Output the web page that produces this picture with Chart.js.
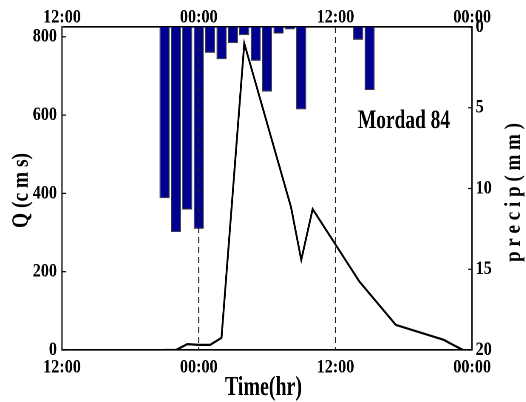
<!DOCTYPE html>
<html>
<head>
<meta charset="utf-8">
<script src="https://cdn.jsdelivr.net/npm/chart.js@4/dist/chart.umd.min.js"></script>
<style>
    html, body { margin: 0; padding: 0; background: #fff; overflow: hidden; }
    #wrap {
        position: absolute; left: 0; top: 0;
        width: 619px; height: 402px;
        transform: scaleX(0.85); transform-origin: 0 0;
    }
</style>
</head>
<body>
<div id="wrap"><canvas id="hydroChart"></canvas></div>
<script>
        // Time axis: hours since 12:00 of the first day
        const xTickLabels = ['12:00', '00:00', '12:00', '00:00'];
        const qTicks = [0, 200, 400, 600, 800];
        const pTicks = [0, 5, 10, 15, 20];

        // Hourly rainfall (mm)
        const rainHours = [9, 10, 11, 12, 13, 14, 15, 16, 17, 18, 19, 20, 21, 26, 27];
        const rainMm = [10.6, 12.7, 11.3, 12.5, 1.6, 2.0, 1.0, 0.5, 2.1, 4.0, 0.4, 0.15, 5.1, 0.8, 3.9];

        // Discharge hydrograph (cms)
        const flowHours = [9, 10, 11, 12, 13, 14, 16, 20.1, 21, 22, 26.1, 29.3, 33.5, 34.2, 35.2];
        const flowCms = [0, 0, 15, 13, 13, 31, 783, 365, 230, 360, 175, 64, 26, 15, 0];

        const S = 0.85;          // horizontal squeeze applied to the canvas
        const W = 526 / S;
        const serif = '"Liberation Serif", "Times New Roman", serif';

        Chart.defaults.font.family = serif;
        Chart.defaults.font.size = 19;
        Chart.defaults.font.weight = 'bold';
        Chart.defaults.color = '#000';

        // Draws text squeezed to a given length (screen px), centred on cx
        function drawFitted(ctx, text, cx, cy, len, size, rotated) {
            ctx.save();
            ctx.font = 'bold ' + size + 'px ' + serif;
            const w = ctx.measureText(text).width;
            ctx.translate(cx / S, cy);
            if (rotated) {
                ctx.rotate(-Math.PI / 2);
                ctx.scale(len / w, 1 / S);
            } else {
                ctx.scale(len / w / S, 1);
            }
            ctx.fillText(text, 0, 0);
            ctx.restore();
        }

        // Dashed grid lines, inward ticks and the text labels
        const overlay = {
            id: 'overlay',
            afterDatasetsDraw(chart) {
                const { ctx, chartArea, scales } = chart;
                ctx.save();
                ctx.strokeStyle = '#222';
                ctx.lineWidth = 1.1 / S;
                ctx.setLineDash([6, 4]);
                scales.x.ticks.forEach(t => {
                    if (t.value <= scales.x.min || t.value >= scales.x.max) return;
                    const x = scales.x.getPixelForValue(t.value);
                    ctx.beginPath();
                    ctx.moveTo(x, chartArea.top);
                    ctx.lineTo(x, chartArea.bottom);
                    ctx.stroke();
                });
                ctx.setLineDash([]);
                ctx.strokeStyle = '#000';
                ctx.lineWidth = 1.2;
                const tl = 4 / S;
                scales.yQ.ticks.forEach(t => {
                    const y = scales.yQ.getPixelForValue(t.value);
                    ctx.beginPath();
                    ctx.moveTo(chartArea.left, y);
                    ctx.lineTo(chartArea.left + tl, y);
                    ctx.stroke();
                });
                scales.yP.ticks.forEach(t => {
                    const y = scales.yP.getPixelForValue(t.value);
                    ctx.beginPath();
                    ctx.moveTo(chartArea.right, y);
                    ctx.lineTo(chartArea.right - tl, y);
                    ctx.stroke();
                });
                ctx.restore();
            },
            afterDraw(chart) {
                const { ctx } = chart;
                ctx.save();
                ctx.fillStyle = '#000';
                ctx.textAlign = 'center';
                ctx.textBaseline = 'middle';
                drawFitted(ctx, 'Q (c m s)', 21.5, 190.5, 75, 23, true);
                drawFitted(ctx, 'p r e c i p ( m m )', 514, 192.5, 139, 22, true);

                ctx.textBaseline = 'alphabetic';
                drawFitted(ctx, 'Time(hr)', 263.5, 395, 77, 27, false);
                drawFitted(ctx, 'Mordad 84', 404, 128, 92, 26, false);
                ctx.restore();
            }
        };

        const timeTicks = {
            stepSize: 12,
            autoSkip: false,
            maxRotation: 0,
            callback: v => xTickLabels[Math.round(v / 12)]
        };

        new Chart(document.getElementById('hydroChart'), {
            type: 'bar',
            data: {
                datasets: [{
                    type: 'line',
                    label: 'Q',
                    data: flowHours.map((h, i) => ({ x: h, y: flowCms[i] })),
                    xAxisID: 'x',
                    yAxisID: 'yQ',
                    borderColor: '#000',
                    borderWidth: 2.2,
                    pointRadius: 0,
                    tension: 0,
                    fill: false,
                    order: 1
                }, {
                    type: 'bar',
                    label: 'precip',
                    data: rainHours.map((h, i) => ({ x: h, y: rainMm[i] })),
                    xAxisID: 'x',
                    yAxisID: 'yP',
                    backgroundColor: '#00008f',
                    borderColor: '#333',
                    borderWidth: 1,
                    categoryPercentage: 1,
                    barPercentage: 0.88,
                    order: 2
                }]
            },
            options: {
                responsive: true,
                maintainAspectRatio: false,
                animation: false,
                devicePixelRatio: 2,
                layout: { padding: 0 },
                plugins: {
                    legend: { display: false },
                    tooltip: { enabled: false }
                },
                scales: {
                    x: {
                        type: 'linear',
                        position: 'bottom',
                        min: 0,
                        max: 36,
                        offset: false,
                        ticks: { ...timeTicks, padding: 6 },
                        grid: { display: false, drawTicks: false },
                        border: { color: '#000', width: 1.6 },
                        afterFit: s => { s.height = 52; }
                    },
                    xTop: {
                        type: 'linear',
                        position: 'top',
                        min: 0,
                        max: 36,
                        offset: false,
                        ticks: { ...timeTicks, padding: -2 },
                        grid: { display: false, drawTicks: false },
                        border: { color: '#000', width: 1.6 },
                        afterFit: s => { s.height = 27; }
                    },
                    yQ: {
                        type: 'linear',
                        position: 'left',
                        min: 0,
                        max: 825,
                        ticks: { padding: 6 },
                        afterBuildTicks: s => { s.ticks = qTicks.map(v => ({ value: v })); },
                        grid: { display: false, drawTicks: false },
                        border: { color: '#555', width: 1.6 / S, dash: [5, 2] },
                        afterFit: s => { s.width = 62 / S; }
                    },
                    yP: {
                        type: 'linear',
                        position: 'right',
                        min: 0,
                        max: 20,
                        reverse: true,
                        ticks: { padding: 4 },
                        afterBuildTicks: s => { s.ticks = pTicks.map(v => ({ value: v })); },
                        grid: { display: false, drawTicks: false },
                        border: { color: '#000', width: 1.3 / S },
                        afterFit: s => { s.width = W - 472 / S; }
                    }
                }
            },
            plugins: [overlay]
        });
</script>
</body>
</html>
